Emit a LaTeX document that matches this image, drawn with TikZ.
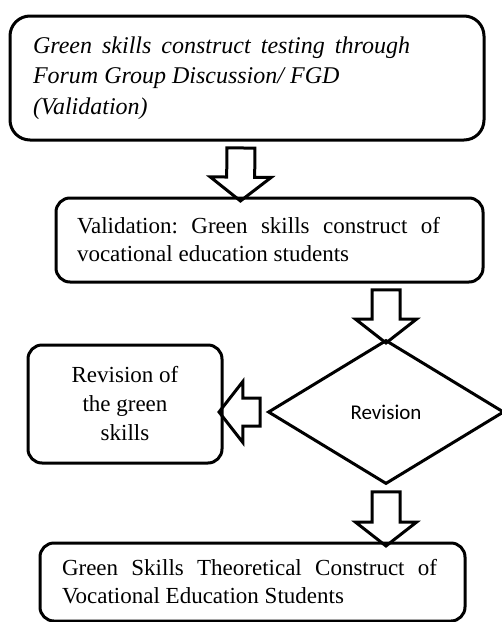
\documentclass[tikz,border=0pt]{standalone}
\usepackage{fontspec}
\setmainfont{Liberation Serif}
\newfontfamily\revfont{Carlito}
\usetikzlibrary{shapes.geometric}
\usetikzlibrary{shapes.arrows}
\usetikzlibrary{calc}
\frenchspacing
\tikzset{stepbox/.style = {draw, line width = 3pt, rounded corners = 14pt, inner sep = 0, font = \fontsize{23}{28}\selectfont}}
\tikzset{hollow/.style = {draw, line width = 3pt, single arrow, inner xsep = 0, inner ysep = 12.5pt, single arrow head extend = 16.5pt, single arrow tip angle = 104}}
\newcommand{\hollowarrow}[2]{\path let \p1 = ($(#2) - (#1)$), \n1 = {veclen(\x1, \y1) - 2pt} in (#1) -- (#2) node [hollow, midway, sloped, allow upside down, minimum height = \n1] {};}
\newcommand{\steptext}[3]{\parbox{#1}{#3}\rule{#2}{0pt}}

\begin{document}
\begin{tikzpicture}[x = 1pt, y = -1pt]
      \useasboundingbox (0, 0) rectangle (502, 622);

      \node [stepbox, rounded corners = 20pt, minimum width = 474, minimum height = 124, font = \fontsize{24}{30.5}\selectfont\itshape] (fgd) at (247, 78)
        {\steptext{377pt}{51pt}{Green skills construct testing through\linebreak Forum Group Discussion/ FGD\\ (Validation)}};

      \node [stepbox, minimum width = 427, minimum height = 84] (valid) at (269.5, 240)
        {\steptext{363pt}{22pt}{Validation: Green skills construct of\linebreak vocational education students}};

      \node [draw, diamond, line width = 3pt, inner sep = 0, minimum width = 236, minimum height = 144, font = \revfont\fontsize{21}{25}\selectfont] (rev) at (386, 412) {Revision};

      \node [stepbox, minimum width = 194, minimum height = 118, align = center, font = \fontsize{23}{29}\selectfont] (revgreen) at (125, 404)
        {Revision of\\ the green\\ skills};

      \node [stepbox, minimum width = 425, minimum height = 78] (theory) at (252.5, 582)
        {\steptext{375pt}{6pt}{Green Skills Theoretical Construct of\linebreak Vocational Education Students}};

      \hollowarrow{$(fgd.south) + (-6, 0)$}{$(valid.north) + (-29, 0)$}
      \hollowarrow{valid.south -| rev.north}{rev.north}
      \hollowarrow{rev.west}{rev.west -| revgreen.east}
      \hollowarrow{rev.south}{rev.south |- theory.north}
    \end{tikzpicture}
\end{document}
